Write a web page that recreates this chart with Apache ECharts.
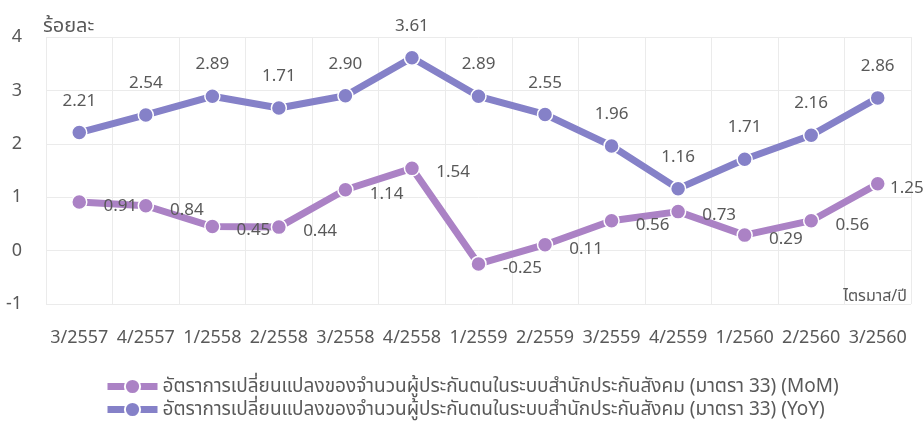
<!DOCTYPE html>
<html>
<head>
<meta charset="utf-8">
<script src="https://cdn.jsdelivr.net/npm/echarts@6/dist/echarts.min.js"></script>
<style>
  html, body { margin: 0; padding: 0; background: #fff; }
  #main { width: 924px; height: 428px; }
</style>
</head>
<body>
<div id="main"></div>
<script>
// ไตรมาส/ปี
const quarters = ['3/2557', '4/2557', '1/2558', '2/2558', '3/2558', '4/2558', '1/2559',
  '2/2559', '3/2559', '4/2559', '1/2560', '2/2560', '3/2560'];

const momName = 'อัตราการเปลี่ยนแปลงของจำนวนผู้ประกันตนในระบบสำนักประกันสังคม (มาตรา 33) (MoM)';
const yoyName = 'อัตราการเปลี่ยนแปลงของจำนวนผู้ประกันตนในระบบสำนักประกันสังคม (มาตรา 33) (YoY)';

const momValues = [0.91, 0.84, 0.45, 0.44, 1.14, 1.54, -0.25, 0.11, 0.56, 0.73, 0.29, 0.56, 1.25];
// point 4 sits near 2.67 in the picture, but its printed label reads 1.71
const yoyValues = [2.21, 2.54, 2.89, 2.67, 2.90, 3.61, 2.89, 2.55, 1.96, 1.16, 1.71, 2.16, 2.86];
const yoyLabels = ['2.21', '2.54', '2.89', '1.71', '2.90', '3.61', '2.89', '2.55', '1.96', '1.16', '1.71', '2.16', '2.86'];

const yTicks = [-1, 0, 1, 2, 3, 4];

const font = '"Noto Sans", "Noto Sans Thai", sans-serif';
const textColor = '#595959';
const momColor = '#ab82c5';
const yoyColor = '#8581c8';

const chart = echarts.init(document.getElementById('main'));

// last MoM label is pulled in so it stays inside the frame
const momData = momValues.map((v, i) =>
  i === momValues.length - 1 ? { value: v, label: { distance: 4 } } : v);

const option = {
  animation: false,
  textStyle: { fontFamily: font, color: textColor },
  grid: { left: 46, right: 13, top: 37, bottom: 124 },
  legend: {
    orient: 'vertical',
    left: 99,
    top: 372,
    itemWidth: 50,
    itemHeight: 19,
    itemGap: 4,
    lineStyle: { width: 7 },
    textStyle: { fontSize: 19, color: textColor, fontFamily: font },
    data: [momName, yoyName],
  },
  xAxis: {
    type: 'category',
    data: quarters,
    boundaryGap: true,
    axisLine: { show: false, onZero: false },
    axisTick: { show: false },
    axisLabel: { margin: 25, fontSize: 18, color: textColor, fontFamily: font, interval: 0 },
    splitLine: { show: true, lineStyle: { color: '#ebebeb', width: 1 } },
    name: 'ไตรมาส/ปี',
    nameLocation: 'end',
    nameGap: -4,
    nameTextStyle: { fontSize: 16, color: textColor, align: 'right', verticalAlign: 'bottom', padding: [0, 0, 0, 0] },
  },
  yAxis: {
    type: 'value',
    min: yTicks[0],
    max: yTicks[yTicks.length - 1],
    interval: 1,
    axisLine: { show: false },
    axisTick: { show: false },
    axisLabel: { margin: 24, fontSize: 18, color: textColor, fontFamily: font },
    splitLine: { show: true, lineStyle: { color: '#ebebeb', width: 1 } },
    name: 'ร้อยละ',
    nameLocation: 'end',
    nameGap: 11,
    nameTextStyle: { fontSize: 20, color: textColor, align: 'left', verticalAlign: 'middle', padding: [0, 0, 0, -3] },
  },
  series: [
    {
      name: momName,
      type: 'line',
      data: momData,
      symbol: 'circle',
      symbolSize: 15,
      lineStyle: { width: 7, color: momColor },
      itemStyle: { color: momColor, borderColor: '#fff', borderWidth: 1.5 },
      label: {
        show: true,
        position: 'right',
        distance: 16,
        offset: [0, 4],
        fontSize: 17,
        color: textColor,
        fontFamily: font,
        formatter: (p) => p.value.toFixed(2),
      },
      z: 2,
    },
    {
      name: yoyName,
      type: 'line',
      data: yoyValues,
      symbol: 'circle',
      symbolSize: 15,
      lineStyle: { width: 7, color: yoyColor },
      itemStyle: { color: yoyColor, borderColor: '#fff', borderWidth: 1.5 },
      label: {
        show: true,
        position: 'top',
        distance: 15,
        fontSize: 17,
        color: textColor,
        fontFamily: font,
        formatter: (p) => yoyLabels[p.dataIndex],
      },
      z: 3,
    },
  ],
};

chart.setOption(option);
</script>
</body>
</html>
